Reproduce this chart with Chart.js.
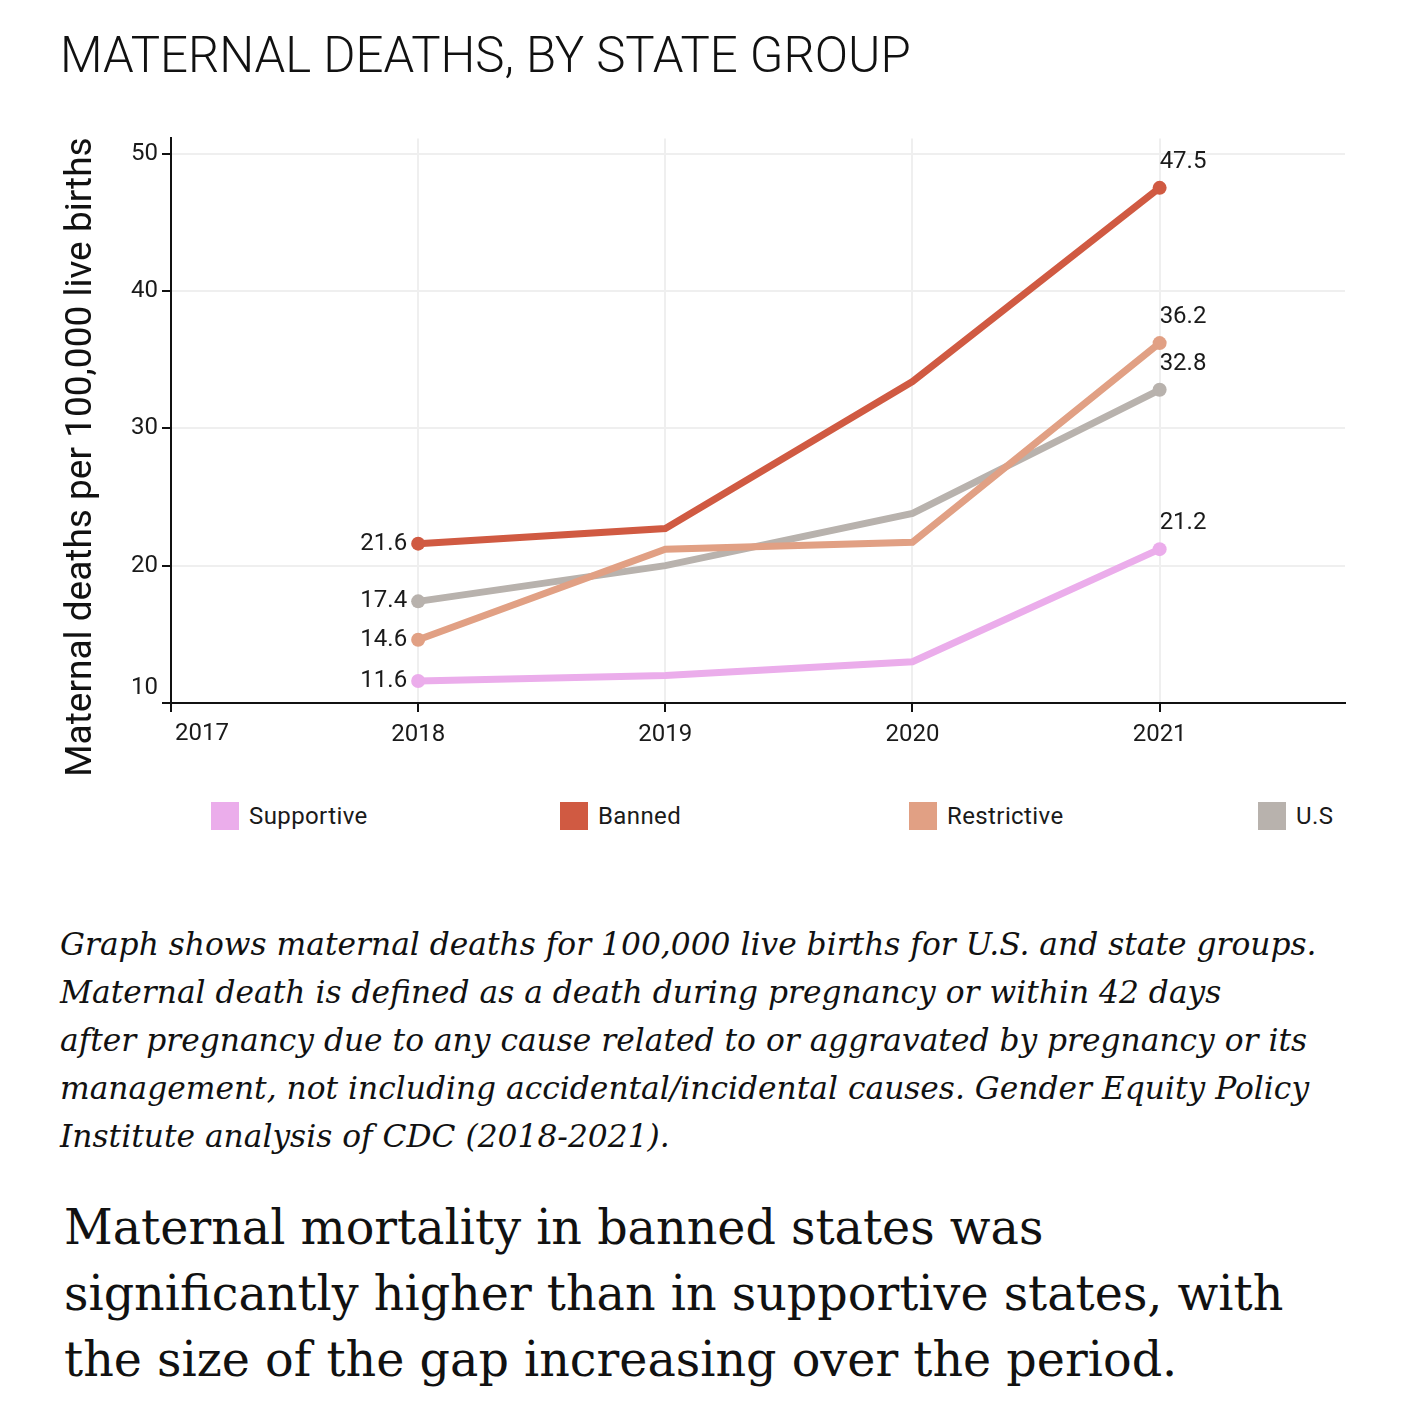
<!DOCTYPE html>
<html>
<head>
<meta charset="utf-8">
<script src="https://cdn.jsdelivr.net/npm/chart.js@4.4.1/dist/chart.umd.min.js"></script>
<style>
  body { margin: 0; background: #fff; width: 1420px; height: 1427px; position: relative; overflow: hidden; }
  #title { position: absolute; left: 60px; top: 31px; font-family: Roboto, sans-serif; font-weight: 300; font-size: 49.2px; line-height: 48px; color: #111; white-space: nowrap; }
  #wrap { position: absolute; left: 0; top: 120px; width: 1420px; height: 670px; }
  #legend { position: absolute; left: 211px; top: 802px; display: flex; }
  .item { width: 349px; display: flex; align-items: center; font-family: Roboto, sans-serif; font-size: 24px; letter-spacing: 0.4px; color: #1a1a1a; }
  .box { width: 28px; height: 28px; margin-right: 10px; }
  #caption { position: absolute; left: 60px; top: 920px; font-family: "DejaVu Serif", serif; font-style: italic; font-size: 31.3px; line-height: 48px; color: #111; white-space: nowrap; }
  #note { position: absolute; left: 64px; top: 1195px; font-family: "DejaVu Serif", serif; font-size: 47.6px; line-height: 66px; color: #111; white-space: nowrap; }
</style>
</head>
<body>
<div id="title">MATERNAL DEATHS, BY STATE GROUP</div>
<div id="wrap"><canvas id="lineChartDeaths"></canvas></div>
<div id="legend"></div>
<div id="caption">Graph shows maternal deaths for 100,000 live births for U.S. and state groups.<br>Maternal death is defined as a death during pregnancy or within 42 days<br>after pregnancy due to any cause related to or aggravated by pregnancy or its<br>management, not including accidental/incidental causes. Gender Equity Policy<br>Institute analysis of CDC (2018-2021).</div>
<div id="note">Maternal mortality in banned states was<br>significantly higher than in supportive states, with<br>the size of the gap increasing over the period.</div>
<script>
var years = [2018, 2019, 2020, 2021];
var supportive = [11.6, 12.0, 13.0, 21.2];
var banned = [21.6, 22.7, 33.4, 47.5];
var restrictive = [14.6, 21.2, 21.7, 36.2];
var usAll = [17.4, 20.0, 23.8, 32.8];

var seriesNames = ['Supportive', 'Banned', 'Restrictive', 'U.S'];
var seriesColors = ['#ebadeb', '#d05a42', '#e1a084', '#b8b2ad'];
var seriesValues = [supportive, banned, restrictive, usAll];
var drawOrder = [0, 1, 2, 3];

var yTicks = [10, 20, 30, 40, 50];
var xTicks = [2017, 2018, 2019, 2020, 2021];

var tickFont = { family: 'Roboto', size: 24 };

function pairs(vals) {
    return years.map(function (y, i) { return { x: y, y: vals[i] }; });
}

var datasets = seriesNames.map(function (name, i) {
    return {
        label: name,
        data: pairs(seriesValues[i]),
        borderColor: seriesColors[i],
        backgroundColor: seriesColors[i],
        borderWidth: 7,
        pointRadius: years.map(function (y, k) { return (k === 0 || k === years.length - 1) ? 7 : 0; }),
        pointHoverRadius: 0,
        pointBorderWidth: 0,
        order: drawOrder[i]
    };
});

// html legend
var legend = document.getElementById('legend');
seriesNames.forEach(function (name, i) {
    var it = document.createElement('div');
    it.className = 'item';
    it.innerHTML = '<span class="box" style="background:' + seriesColors[i] + '"></span>' + name;
    legend.appendChild(it);
});

var labelsPlugin = {
    id: 'endLabels',
    afterDatasetsDraw: function (chart) {
        var c = chart.ctx;
        c.save();
        c.font = '24px Roboto';
        c.fillStyle = '#1a1a1a';
        chart.data.datasets.forEach(function (ds, i) {
            var meta = chart.getDatasetMeta(i);
            var first = meta.data[0];
            var last = meta.data[meta.data.length - 1];
            c.textAlign = 'right';
            c.textBaseline = 'middle';
            c.fillText(ds.data[0].y.toFixed(1), first.x - 11, first.y);
            c.textAlign = 'left';
            c.textBaseline = 'alphabetic';
            c.fillText(ds.data[ds.data.length - 1].y.toFixed(1), last.x, last.y - 20);
        });
        c.restore();
    },
    afterDraw: function (chart) {
        var c = chart.ctx;
        var xs = chart.scales.x, ys = chart.scales.y;
        c.save();
        c.fillStyle = '#1a1a1a';
        c.font = '24px Roboto';
        // corner tick labels, nudged off the corner
        c.textAlign = 'right';
        c.textBaseline = 'middle';
        c.fillText(String(yTicks[0]), ys.right - 13, ys.getPixelForValue(yTicks[0]) - 15);
        c.textAlign = 'left';
        c.textBaseline = 'top';
        c.fillText(String(xTicks[0]), xs.getPixelForValue(xTicks[0]) + 4, xs.top + 19);
        // y axis title
        c.font = '37px Roboto';
        c.fillStyle = '#111';
        c.textAlign = 'center';
        c.textBaseline = 'middle';
        c.translate(82, 337);
        c.rotate(-Math.PI / 2);
        c.fillText('Maternal deaths per 100,000 live births', 0, 0);
        c.restore();
    }
};

var ctx = document.getElementById('lineChartDeaths').getContext('2d');
var myChart = new Chart(ctx, {
    type: 'line',
    data: { datasets: datasets },
    options: {
        responsive: true,
        maintainAspectRatio: false,
        animation: false,
        layout: { padding: { top: 17, right: 75, left: 0, bottom: 0 } },
        plugins: { legend: { display: false }, tooltip: { enabled: false } },
        scales: {
            x: {
                type: 'linear',
                min: 2017,
                max: 2021.75,
                afterBuildTicks: function (axis) {
                    axis.ticks = xTicks.map(function (v) { return { value: v }; });
                },
                afterFit: function (axis) { axis.height = 87; },
                ticks: {
                    font: tickFont,
                    color: '#1a1a1a',
                    padding: 9,
                    maxRotation: 0,
                    callback: function (v) { return v === xTicks[0] ? '' : String(v); }
                },
                grid: { color: '#efefef', lineWidth: 2, tickColor: '#111', tickLength: 9, tickWidth: 2 },
                border: { color: '#111', width: 2 }
            },
            y: {
                min: 10,
                max: 51.1,
                afterBuildTicks: function (axis) {
                    axis.ticks = yTicks.map(function (v) { return { value: v }; });
                },
                afterFit: function (axis) { axis.width = 171; },
                ticks: {
                    font: tickFont,
                    color: '#1a1a1a',
                    padding: 4,
                    callback: function (v) { return v === yTicks[0] ? '' : String(v); }
                },
                grid: { color: '#efefef', lineWidth: 2, tickColor: '#111', tickLength: 9, tickWidth: 2 },
                border: { color: '#111', width: 2 }
            }
        }
    },
    plugins: [labelsPlugin]
});
</script>
</body>
</html>
